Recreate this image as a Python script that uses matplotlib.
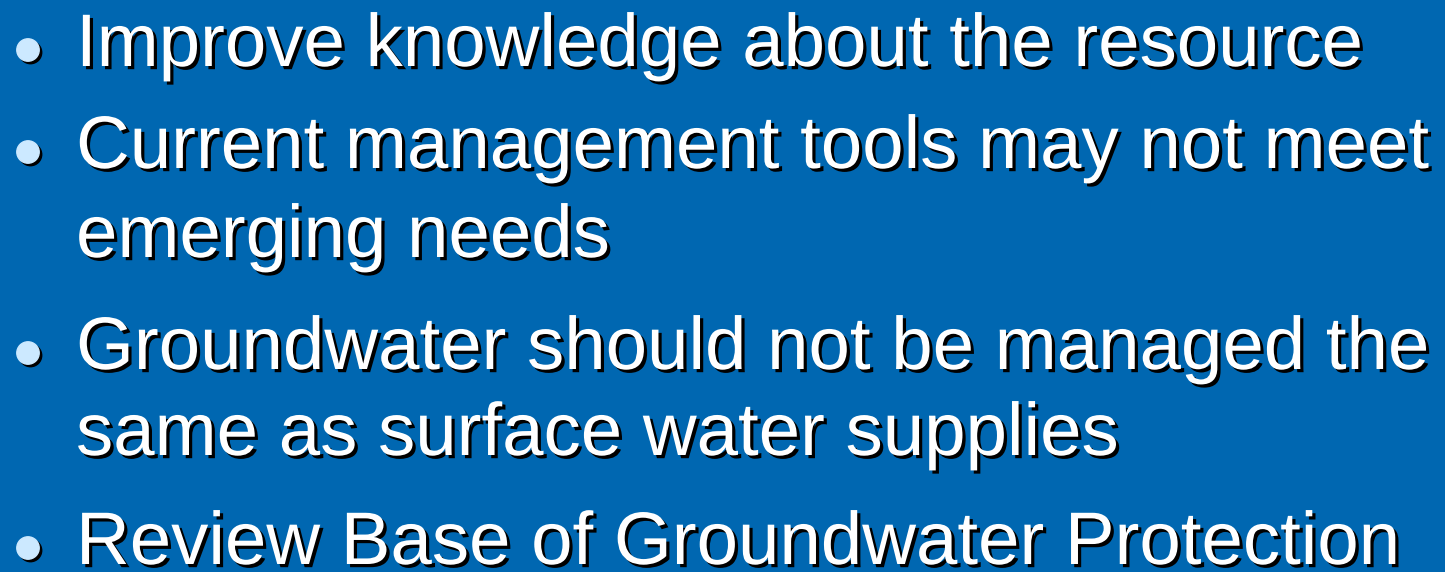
import matplotlib
matplotlib.use("Agg")
import matplotlib.pyplot as plt
import matplotlib.patheffects as pe
from matplotlib.patches import Circle

# Slide content
bullets = [
    ["Improve knowledge about the resource"],
    ["Current management tools may not meet", "emerging needs"],
    ["Groundwater should not be managed the", "same as surface water supplies"],
    ["Review Base of Groundwater Protection"],
]

# Layout (pixels)
W, H = 1445, 572
baselines = [[66], [168, 257], [369, 455], [564]]
text_x = 76
bullet_x = 28
bullet_dy = 16  # bullet centre above baseline
bg = "#0067B1"
bullet_color = "#CCE9FF"
fs = 53.6

fig = plt.figure(figsize=(W / 100, H / 100), dpi=100)
fig.patch.set_facecolor(bg)
ax = fig.add_axes([0, 0, 1, 1])
ax.set_xlim(0, W)
ax.set_ylim(H, 0)
ax.axis("off")
ax.set_facecolor(bg)

shadow = [pe.withSimplePatchShadow(offset=(2.3, -2.3), shadow_rgbFace="black", alpha=1.0)]

for lines, ys in zip(bullets, baselines):
    yb = ys[0] - bullet_dy
    ax.add_patch(Circle((bullet_x + 2.5, yb + 2.5), 11.2, color="black", zorder=2))
    ax.add_patch(Circle((bullet_x, yb), 11.2, color=bullet_color, zorder=3))
    for line, y in zip(lines, ys):
        ax.text(text_x, y, line, fontsize=fs, family="Liberation Sans", color="white",
                ha="left", va="baseline", path_effects=shadow, zorder=4)

fig.savefig("out.png", dpi=100, facecolor=bg)
